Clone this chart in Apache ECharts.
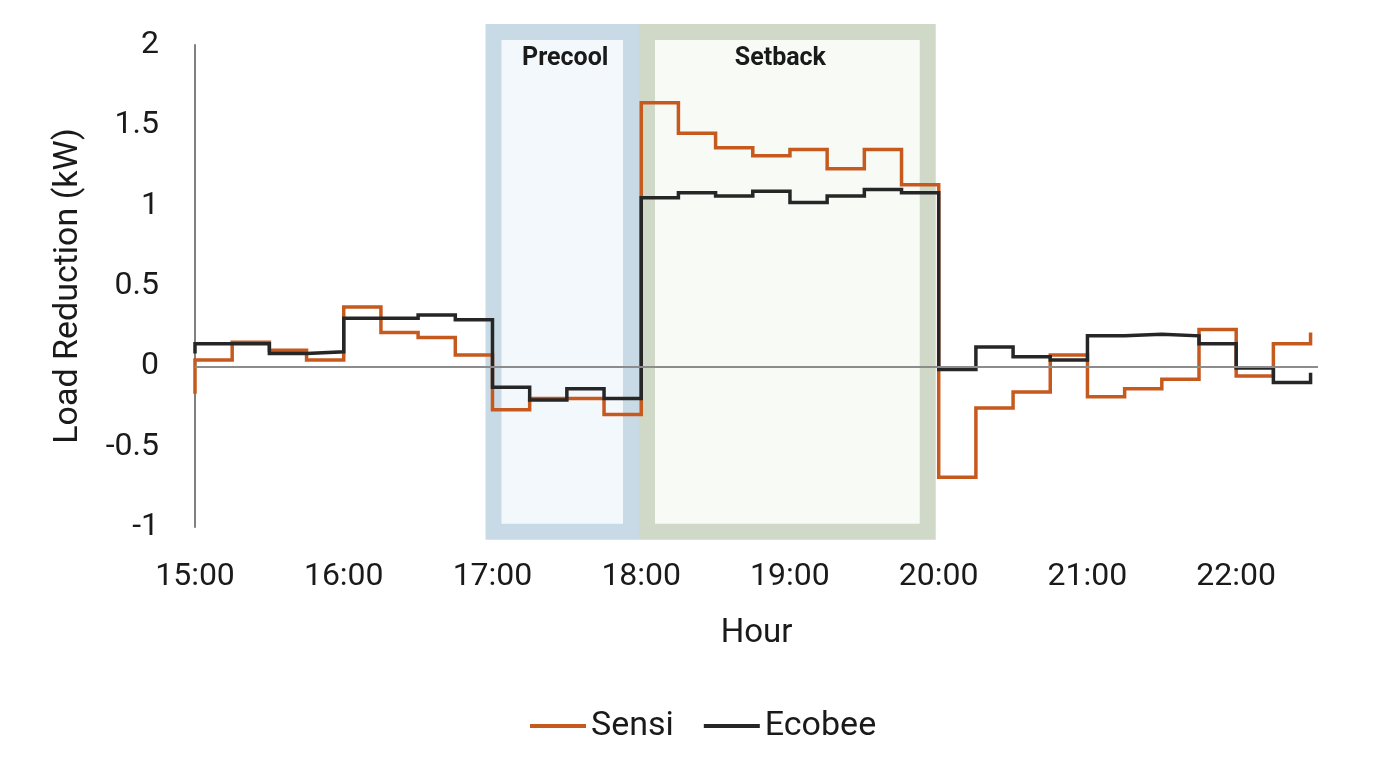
<!DOCTYPE html>
<html>
<head>
<meta charset="utf-8">
<script src="https://cdn.jsdelivr.net/npm/echarts@6/dist/echarts.min.js"></script>
<style>
    html, body { margin: 0; padding: 0; background: #fff; }
    #chart { width: 1378px; height: 769px; }
</style>
</head>
<body>
<div id="chart"></div>
<script>
// 15-minute steps; value at a time is the level held until the next step
const times = [
    '15:00', '15:15', '15:30', '15:45', '16:00', '16:15', '16:30', '16:45',
    '17:00', '17:15', '17:30', '17:45', '18:00', '18:15', '18:30', '18:45',
    '19:00', '19:15', '19:30', '19:45', '20:00', '20:15', '20:30', '20:45',
    '21:00', '21:15', '21:30', '21:45', '22:00', '22:15', '22:30',
]
const hourLabels = ['15:00', '16:00', '17:00', '18:00', '19:00', '20:00', '21:00', '22:00']

// level just before 15:00 (only the first vertical jump is visible)
const sensiStart = -0.17
const ecobeeStart = 0.08

const sensi = [
    0.04, 0.15, 0.10, 0.04, 0.37, 0.21, 0.18, 0.07,
    -0.27, -0.20, -0.20, -0.30, 1.64, 1.45, 1.36, 1.31,
    1.35, 1.23, 1.35, 1.13, -0.69, -0.26, -0.16, 0.07,
    -0.19, -0.14, -0.08, 0.23, -0.06, 0.14, 0.21,
]
const ecobee = [
    0.14, 0.14, 0.08, 0.09, 0.30, 0.30, 0.32, 0.29,
    -0.13, -0.21, -0.14, -0.20, 1.05, 1.08, 1.06, 1.09,
    1.02, 1.06, 1.10, 1.08, -0.02, 0.12, 0.06, 0.04,
    0.19, 0.20, 0.19, 0.14, -0.01, -0.10, -0.04,
]

// shaded event windows (hours, as drawn on the figure)
const periodNames = ['Precool', 'Setback']
const periodFrom = [16.953, 17.985]
const periodTo = [17.985, 19.98]

const toHour = t => {
    const [h, m] = t.split(':').map(Number)
    return h + m / 60
}

const buildSteps = (start, values) => [
    [toHour(times[0]), start],
    ...times.map((t, i) => [toHour(t), values[i]]),
]

const FONT = 'Roboto, sans-serif'
const TEXT = '#1a1a1a'
const periodBorder = ['#c8dae5', '#d0d8c8']
const periodFill = ['#f3f8fd', '#f8faf6']
const labelShift = [3, -7]

const chart = echarts.init(document.getElementById('chart'))

chart.setOption({
    animation: false,
    textStyle: { fontFamily: FONT },
    grid: { left: 195, right: 60, top: 45, bottom: 242 },
    legend: {
        left: 525,
        top: 704,
        icon: 'rect',
        itemWidth: 56,
        itemHeight: 4,
        itemGap: 30,
        textStyle: { fontSize: 34, color: TEXT },
        data: ['Sensi', 'Ecobee'],
    },
    xAxis: {
        type: 'value',
        min: 15,
        max: 22.55,
        interval: 1,
        name: 'Hour',
        nameLocation: 'middle',
        nameGap: 90,
        nameTextStyle: { fontSize: 33, color: TEXT },
        axisLine: { show: false },
        axisTick: { show: false },
        splitLine: { show: false },
        axisLabel: {
            fontSize: 32,
            color: TEXT,
            margin: 34,
            showMaxLabel: false,
            formatter: v => {
                const r = Math.round(v)
                return Math.abs(v - r) < 1e-6 ? hourLabels[r - 15] ?? '' : ''
            },
        },
    },
    yAxis: {
        type: 'value',
        min: -1,
        max: 2,
        interval: 0.5,
        name: 'Load Reduction (kW)',
        nameLocation: 'middle',
        nameGap: 110,
        nameTextStyle: { fontSize: 34, color: TEXT },
        axisLine: { show: true, lineStyle: { color: '#808080', width: 2 } },
        axisTick: { show: false },
        splitLine: { show: false },
        axisLabel: { fontSize: 32, color: TEXT, margin: 36 },
    },
    series: [
        {
            name: 'Sensi',
            type: 'line',
            step: 'end',
            showSymbol: false,
            color: '#c65a1e',
            lineStyle: { width: 3.5, color: '#c65a1e', join: 'miter' },
            data: buildSteps(sensiStart, sensi),
            markLine: {
                silent: true,
                symbol: ['none', 'none'],
                label: { show: false },
                lineStyle: { color: '#8c8c8c', width: 2, type: 'solid' },
                data: [{ yAxis: 0 }],
            },
        },
        {
            name: 'Ecobee',
            type: 'line',
            step: 'end',
            showSymbol: false,
            color: '#262626',
            lineStyle: { width: 3.5, color: '#262626', join: 'miter' },
            data: buildSteps(ecobeeStart, ecobee),
        },
    ],
})

// event boxes drawn behind the lines, placed through the axes
const boxTopValue = 2.13
const boxBottomValue = -1.08
const border = 16
const yTop = chart.convertToPixel({ yAxisIndex: 0 }, boxTopValue)
const yBottom = chart.convertToPixel({ yAxisIndex: 0 }, boxBottomValue)

const graphics = []
periodNames.forEach((name, i) => {
    const x1 = chart.convertToPixel({ xAxisIndex: 0 }, periodFrom[i])
    const x2 = chart.convertToPixel({ xAxisIndex: 0 }, periodTo[i])
    graphics.push({
        type: 'rect',
        z: 0,
        silent: true,
        shape: {
            x: x1 + border / 2,
            y: yTop + border / 2,
            width: x2 - x1 - border,
            height: yBottom - yTop - border,
        },
        style: { fill: periodFill[i], stroke: periodBorder[i], lineWidth: border },
    })
    graphics.push({
        type: 'text',
        z: 1,
        silent: true,
        x: (x1 + x2) / 2 + labelShift[i],
        y: yTop + 35,
        style: {
            text: name,
            font: `bold 25px ${FONT}`,
            fill: TEXT,
            align: 'center',
            verticalAlign: 'middle',
        },
    })
})

chart.setOption({ graphic: graphics })
</script>
</body>
</html>
